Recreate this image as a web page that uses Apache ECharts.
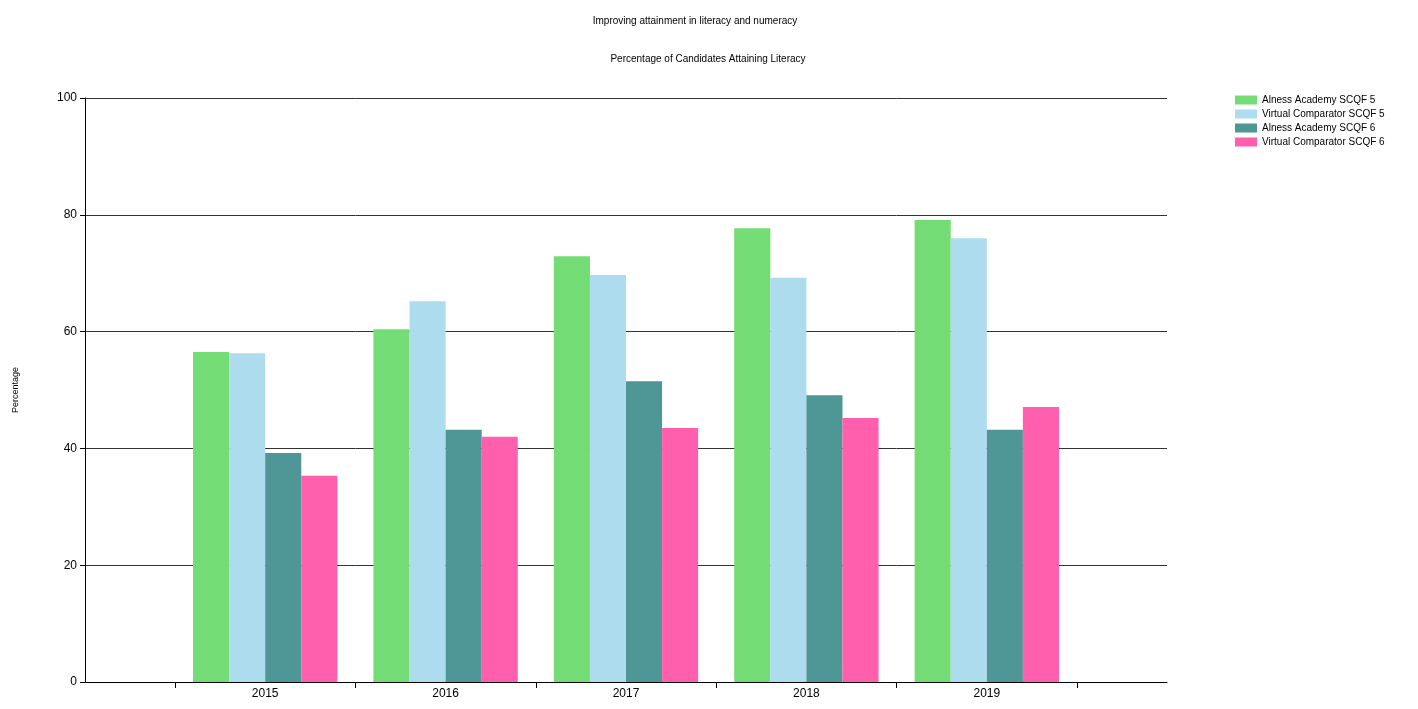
<!DOCTYPE html>
<html>
<head>
<meta charset="utf-8">
<script src="https://cdn.jsdelivr.net/npm/echarts@6/dist/echarts.min.js"></script>
<style>html,body{margin:0;padding:0;background:#fff}#c{width:1418px;height:709px}</style>
</head>
<body>
<div id="c"></div>
<script>
var years = ['2015', '2016', '2017', '2018', '2019'];
var seriesNames = ['Alness Academy SCQF 5', 'Virtual Comparator SCQF 5', 'Alness Academy SCQF 6', 'Virtual Comparator SCQF 6'];
var alness5 = [56.5, 60.4, 72.9, 77.7, 79.1];
var virtual5 = [56.3, 65.2, 69.7, 69.2, 76.0];
var alness6 = [39.2, 43.2, 51.5, 49.1, 43.2];
var virtual6 = [35.3, 42.0, 43.5, 45.2, 47.1];
var colors = ['#74dc74', '#addcef', '#4f9696', '#ff5fac'];

var chart = echarts.init(document.getElementById('c'));
var font = 'Liberation Sans, Arial, sans-serif';
var data = [alness5, virtual5, alness6, virtual6];

chart.setOption({
    animation: false,
    textStyle: { fontFamily: font },
    title: [
        { text: 'Improving attainment in literacy and numeracy', left: 690, top: 11, textAlign: 'center',
          textStyle: { fontSize: 10, fontWeight: 'normal', color: '#000' } },
        { text: 'Percentage of Candidates Attaining Literacy', left: 703, top: 49, textAlign: 'center',
          textStyle: { fontSize: 10, fontWeight: 'normal', color: '#000' } }
    ],
    legend: {
        orient: 'vertical', left: 1230, top: 90, itemWidth: 22, itemHeight: 9, itemGap: 4,
        icon: 'rect', data: seriesNames,
        textStyle: { fontSize: 10, color: '#000' }
    },
    grid: [
        { left: 85, right: 251, top: 98, bottom: 27 },   // frame grid
        { left: 175, right: 341, top: 98, bottom: 27 }   // bars grid
    ],
    xAxis: [
        { gridIndex: 0, type: 'value', min: 0, max: 1, axisLabel: { show: false }, axisTick: { show: false },
          splitLine: { show: false }, axisLine: { lineStyle: { color: '#000' } } },
        { gridIndex: 1, type: 'category', data: years,
          axisLine: { show: false },
          axisTick: { show: true, length: 6, lineStyle: { color: '#000' } },
          axisLabel: { fontSize: 12, color: '#000', margin: 6 } }
    ],
    yAxis: [
        { gridIndex: 0, type: 'value', min: 0, max: 100, interval: 20, name: 'Percentage',
          nameLocation: 'middle', nameRotate: 90, nameGap: 65,
          nameTextStyle: { fontSize: 9, color: '#000' },
          axisLine: { show: true, lineStyle: { color: '#000' } },
          axisTick: { show: true, length: 5, lineStyle: { color: '#000' } },
          axisLabel: { fontSize: 12, color: '#000' },
          splitLine: { lineStyle: { color: '#333' } } },
        { gridIndex: 1, type: 'value', min: 0, max: 100, show: false }
    ],
    series: seriesNames.map(function (n, i) {
        return { name: n, type: 'bar', xAxisIndex: 1, yAxisIndex: 1, data: data[i],
                 barGap: '0%', barCategoryGap: '20%', itemStyle: { color: colors[i] } };
    })
});
</script>
</body>
</html>
